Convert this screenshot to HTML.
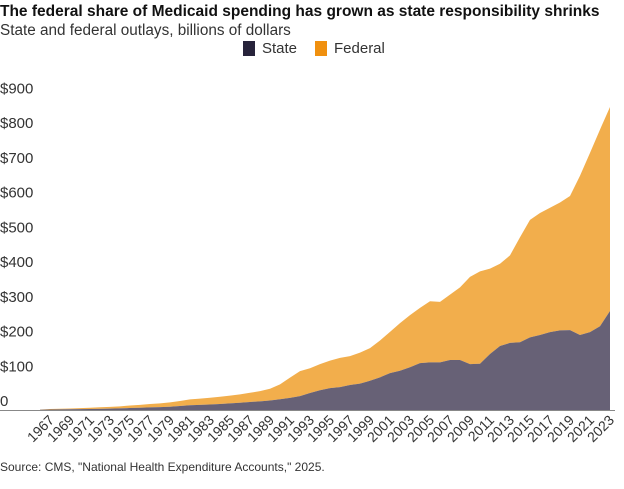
<!DOCTYPE html>
<html><head><meta charset="utf-8"><style>
body{margin:0;background:#fff;font-family:"Liberation Sans",sans-serif;}
svg{display:block}
</style></head><body>
<svg id="chart" width="624" height="489" xmlns="http://www.w3.org/2000/svg">
<text x="0" y="16" font-size="15.5" font-weight="bold" fill="#111">The federal share of Medicaid spending has grown as state responsibility shrinks</text>
<text x="0" y="35" font-size="15.3" fill="#333">State and federal outlays, billions of dollars</text>
<g>
<rect x="243" y="41" width="12" height="15" fill="#27233b"/>
<text x="262" y="53" font-size="15" fill="#333">State</text>
<rect x="315" y="41" width="12" height="15" fill="#f0900f"/>
<text x="334" y="53" font-size="15" fill="#333">Federal</text>
</g>
<g id="yaxis"></g>
<g id="areas"></g>
<g id="xaxis"></g>
<text x="0" y="471" font-size="12" fill="#333">Source: CMS, "National Health Expenditure Accounts," 2025.</text>
</svg>
<script>
const years = [1966,1967,1968,1969,1970,1971,1972,1973,1974,1975,1976,1977,1978,1979,1980,1981,1982,1983,1984,1985,1986,1987,1988,1989,1990,1991,1992,1993,1994,1995,1996,1997,1998,1999,2000,2001,2002,2003,2004,2005,2006,2007,2008,2009,2010,2011,2012,2013,2014,2015,2016,2017,2018,2019,2020,2021,2022,2023];
const totalValues = [1.3,3,3.7,4.4,5.4,6.4,7.9,9.1,10.6,13.1,14.9,17.2,19.1,21.8,26,30.4,32.6,35.4,38,41.3,45,49.5,54.2,61.3,73.7,93.3,112,120,132,142,150,155,165,178,200,225,250,273,294,313,311,332,353,383,399,407,421,445,497,547,567,582,597,616,674,740,807,872];
const stateValues = [0.6,1.4,1.7,2,2.4,2.8,3.4,3.9,4.6,5.6,6.4,7.4,8.3,9.5,11.5,13.5,14.6,16,17.3,19,21,23,25,27.5,31,35,40,49,57,63,66,72,76,84,94,106,113,123,135,137,137,144,144,132,133,161,184,193,195,209,216,224,229,230,216,224,241,285];
const yTicks = [0,100,200,300,400,500,600,700,800,900];
const yTickLabels = ["0","$100","$200","$300","$400","$500","$600","$700","$800","$900"];
const xTickYears = [1967,1969,1971,1973,1975,1977,1979,1981,1983,1985,1987,1989,1991,1993,1995,1997,1999,2001,2003,2005,2007,2009,2011,2013,2015,2017,2019,2021,2023];

const NS="http://www.w3.org/2000/svg";
const x0=40,x1=610,yBase=410,yPer=0.3475;
const xs=y=>x0+(y-years[0])*(x1-x0)/(years[years.length-1]-years[0]);
const ys=v=>yBase-v*yPer;
function mk(tag,attrs,parent){const e=document.createElementNS(NS,tag);for(const k in attrs)e.setAttribute(k,attrs[k]);parent.appendChild(e);return e;}

const ya=document.getElementById('yaxis');
yTicks.forEach((t,i)=>{
  const tx=mk('text',{x:0,y:ys(t)-4,'font-size':15,fill:'#333'},ya);
  tx.textContent=yTickLabels[i];
  
  
});

const ar=document.getElementById('areas');
let fed='M'+xs(years[0])+','+ys(stateValues[0]);
years.forEach((y,i)=>{fed+=' L'+xs(y)+','+ys(totalValues[i]);});
for(let i=years.length-1;i>=0;i--)fed+=' L'+xs(years[i])+','+ys(stateValues[i]);
fed+='Z';
const pf=mk('path',{d:fed,fill:'#f2ae4c'},ar);


let st='M'+xs(years[0])+','+yBase;
years.forEach((y,i)=>{st+=' L'+xs(y)+','+ys(stateValues[i]);});
st+=' L'+xs(years[years.length-1])+','+yBase+'Z';
const ps=mk('path',{d:st,fill:'#676176'},ar);



const xa=document.getElementById('xaxis');
const ln=mk('line',{x1:0,x2:615,y1:yBase+0.5,y2:yBase+0.5,stroke:'#888','stroke-width':1},xa);


xTickYears.forEach(y=>{
  const x=xs(y)+5,yy=yBase+11;
  const tx=mk('text',{x:x,y:yy,'font-size':14,fill:'#333','text-anchor':'end',transform:'rotate(-45 '+x+' '+yy+')'},xa);
  tx.textContent=y;
  
  
});
</script>
</body></html>
